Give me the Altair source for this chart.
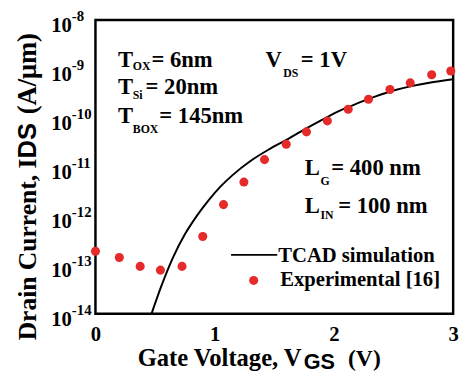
import altair as alt
import pandas as pd

# ---------------- data ----------------
# Experimental [16]
exp_vgs = [0.0, 0.2, 0.375, 0.545, 0.726, 0.90, 1.074, 1.245, 1.418, 1.60,
           1.77, 1.945, 2.12, 2.29, 2.47, 2.64, 2.82, 2.98]
exp_ids = [1.9e-13, 1.41e-13, 9.3e-14, 7.8e-14, 9.3e-14, 3.8e-13, 1.7e-12,
           4.9e-12, 1.41e-11, 2.9e-11, 5.2e-11, 8.7e-11, 1.51e-10, 2.4e-10,
           3.8e-10, 5.2e-10, 7.6e-10, 9.1e-10]

# TCAD simulation
tcad_vgs = [0.47, 0.55, 0.65, 0.75, 0.85, 0.95, 1.05, 1.15, 1.3, 1.45, 1.6,
            1.75, 1.9, 2.05, 2.2, 2.35, 2.5, 2.65, 2.8, 3.0]
tcad_ids = [1.0e-14, 3.55e-14, 1.41e-13, 4.2e-13, 1.0e-12, 2.1e-12, 4.0e-12,
            6.8e-12, 1.32e-11, 2.24e-11, 3.55e-11, 5.75e-11, 9.1e-11, 1.41e-10,
            2.0e-10, 2.75e-10, 3.63e-10, 4.47e-10, 5.25e-10, 6.17e-10]

# axes
x_tick_values = [0, 1, 2, 3]
y_tick_values = [1e-8, 1e-9, 1e-10, 1e-11, 1e-12, 1e-13, 1e-14]
y_tick_exp = ["-8", "-9", "-10", "-11", "-12", "-13", "-14"]

# ---------------- styling ----------------
SERIF = "Liberation Serif"
SANS = "Liberation Sans"
RED = "#e62a2a"

exp_df = pd.DataFrame({"vgs": exp_vgs, "ids": exp_ids})
tcad_df = pd.DataFrame({"vgs": tcad_vgs, "ids": tcad_ids})
tick_df = pd.DataFrame({"value": y_tick_values, "exp": y_tick_exp})
one = pd.DataFrame({"k": [0]})

x_scale = alt.Scale(domain=[0, 3], nice=False, zero=False)
y_scale = alt.Scale(type="log", domain=[1e-14, 1e-8], nice=False)
x_axis = alt.Axis(values=x_tick_values, title=None, ticks=False, tickSize=0,
                  domain=False, grid=False, labelFont=SERIF, labelFontSize=21,
                  labelFontWeight="bold", labelColor="black", labelPadding=10,
                  labelFlush=False, format="d")

X = alt.X("vgs:Q", scale=x_scale, axis=x_axis)

line = alt.Chart(tcad_df).mark_line(
    color="black", strokeWidth=2, interpolate="monotone"
).encode(x=X, y=alt.Y("ids:Q", scale=y_scale, axis=None))

points = alt.Chart(exp_df).mark_circle(
    color=RED, opacity=1, size=85
).encode(x=X, y=alt.Y("ids:Q", scale=y_scale, axis=None))

tick_base = alt.Chart(tick_df).mark_text(
    align="right", baseline="alphabetic", dy=12, font=SERIF,
    fontWeight="bold", fontSize=21, color="black"
).encode(x=alt.value(-24), y=alt.Y("value:Q", scale=y_scale, axis=None),
         text=alt.value("10"))

tick_exp = alt.Chart(tick_df).mark_text(
    align="left", baseline="alphabetic", dy=1, font=SERIF,
    fontWeight="bold", fontSize=15, color="black"
).encode(x=alt.value(-24), y=alt.Y("value:Q", scale=y_scale, axis=None),
         text="exp:N")


def label(s, x, y, size=23, font=SERIF, align="left", angle=0):
    kw = dict(align=align, baseline="alphabetic", font=font, fontWeight="bold",
              fontSize=size, color="black")
    if angle:
        kw["angle"] = angle
    return alt.Chart(one).mark_text(**kw).encode(
        x=alt.value(x), y=alt.value(y), text=alt.value(s))


texts = [
    # parameters
    label("T", 23, 48), label("OX", 38, 51, size=12), label("= 6nm", 57, 48),
    label("T", 23, 75), label("Si", 38, 80, size=12), label("= 20nm", 51, 75),
    label("T", 23, 105), label("BOX", 38, 115, size=12), label("= 145nm", 65, 105),
    label("V", 173, 48), label("DS", 191, 58, size=12), label("= 1V", 209, 48),
    label("L", 213, 158), label("G", 229, 168, size=12), label("= 400 nm", 240, 158),
    label("L", 213, 196), label("IN", 229, 203, size=12), label("= 100 nm", 247, 196),
    # legend
    label("TCAD simulation", 186, 246, size=21),
    label("Experimental [16]", 188, 271, size=21),
    # x title
    label("Gate Voltage, V", 43, 352, size=25),
    label("GS", 212, 355, size=22, font=SANS),
    label("(V)", 257, 352, size=24),
    # y title
    label("Drain Current, I", -61, 326, size=26, angle=270),
    label("DS", -60, 141, size=26, font=SANS, angle=270),
    label("(A/μm)", -61, 96, size=27, angle=270),
]

legend_line = alt.Chart(one).mark_rule(color="black", strokeWidth=2).encode(
    x=alt.value(138), x2=alt.value(185), y=alt.value(239))
legend_dot = alt.Chart(one).mark_circle(color=RED, opacity=1, size=85).encode(
    x=alt.value(161), y=alt.value(265))

chart = alt.layer(
    line, points, tick_base, tick_exp, legend_line, legend_dot, *texts
).properties(
    width=364, height=299,
    autosize=alt.AutoSizeParams(type="none"),
    padding={"left": 89, "top": 9, "right": 9, "bottom": 57},
    background="white",
).configure_view(stroke="black", strokeWidth=2.5)

chart.save("out.html", embed_options={"renderer": "svg", "actions": False})
